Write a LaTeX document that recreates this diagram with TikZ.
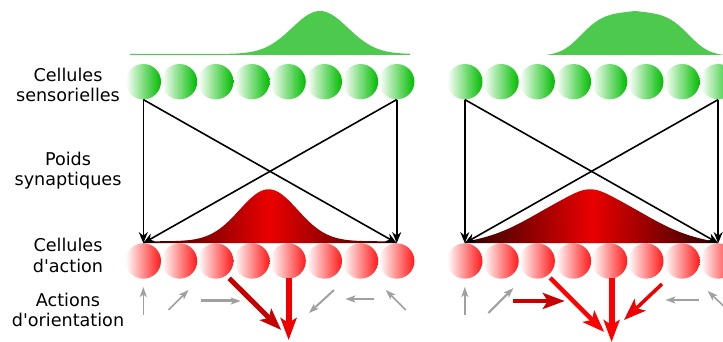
\documentclass[tikz,border=0pt]{standalone}
\usepackage{fontspec}
\newfontfamily\labelfont{DejaVu Sans}
\usepackage{tikz}
\usetikzlibrary{positioning, arrows.meta, calc}

\definecolor{sensegreen}{RGB}{0,188,0}
\definecolor{bumpgreen}{RGB}{77,201,77}
\definecolor{actred}{RGB}{255,25,25}
\definecolor{bumpdark}{RGB}{45,0,0}
\definecolor{bumpred}{RGB}{234,0,0}
\definecolor{orientgray}{RGB}{160,160,160}
\definecolor{pushdark}{RGB}{200,0,0}
\definecolor{pushred}{RGB}{238,0,0}

\begin{document}
\begin{tikzpicture}[x=1pt, y=1pt,
        % Define cell and arrow styles
        sensory/.style={circle, minimum size=35.4pt, inner sep=0pt, left color=white, right color=sensegreen},
        action/.style={circle, minimum size=35.4pt, inner sep=0pt, left color=white, right color=actred},
        wire/.style={draw, line width=1.6pt, -{Stealth[length=11pt, width=9pt, inset=3.5pt]}},
        orient/.style={draw=orientgray, line width=#1, -{Stealth[length=10pt, width=7pt, inset=2.5pt]}},
        orient/.default=1.6pt,
        push/.style={line width=#1, -{Stealth[length=22pt, width=16pt, inset=5pt]}},
        rowlabel/.style={align=center, anchor=base, inner sep=0pt, font={\labelfont\fontsize{17.6}{20.5}\selectfont}}
    ]
    \useasboundingbox (0,0) rectangle (723,342);

    % --- Row labels (anchored at the last line) ---
    \node[rowlabel] (lbSense) at (68,240.3) {Cellules\\sensorielles};
    \node[rowlabel] (lbWeights) at (68,156) {Poids\\synaptiques};
    \node[rowlabel] (lbAction) at (68,69.5) {Cellules\\d'action};
    \node[rowlabel] (lbOrient) at (68,15.3) {Actions\\d'orientation};

    % --- Input bumps (green) ---
    \fill[bumpgreen] (130,287) -- plot[domain=130:410, samples=120] (\x, {288 + 43*exp(-((\x-320)/39.6)^2)}) -- (410,287) -- cycle;
    \fill[bumpgreen] (547,287) -- plot[domain=547:723, samples=120] (\x, {287 + 34*exp(-((\x-635)/58)^4) + 10*(1-abs(\x-635)/88)}) -- (723,287) -- cycle;

    % --- Cell rows ---
    \node[sensory] (sL1) at (143.3,260.3) {};
    \node[action] (aL1) at (143.3,81) {};
    \node[sensory] (sR1) at (464.8,260.3) {};
    \node[action] (aR1) at (464.8,81) {};
    \foreach \i [remember=\i as \j (initially 1)] in {2,...,8} {
        \node[sensory, right=0.4pt of sL\j] (sL\i) {};
        \node[action, right=0.4pt of aL\j] (aL\i) {};
        \node[sensory, right=0.4pt of sR\j] (sR\i) {};
        \node[action, right=0.4pt of aR\j] (aR\i) {};
    }

    % --- Output bumps (red), shaded dark at the edges ---
    \shade[left color=bumpdark, right color=bumpdark, middle color=bumpred]
        (aL1.north) -- plot[domain=143.3:393.9, samples=120] (\x, {100.7 + 52*exp(-((\x-268.6)/41)^2)}) -- (aL8.north) -- cycle;
    \shade[left color=bumpdark, right color=bumpdark, middle color=bumpred]
        (aR1.north) -- plot[domain=464.8:715.4, samples=120] (\x, {100.7 + 47*exp(-((\x-590.1)/74)^2) + 5*exp(-((\x-590.1)/22)^2) - 3*((\x-590.1)/125)^2}) -- (aR8.north) -- cycle;

    % --- Synaptic weights ---
    \foreach \p in {L,R} {
        \draw[wire] (s\p1.south) -- (a\p1.north);
        \draw[wire] (s\p1.south) -- (a\p8.north);
        \draw[wire] (s\p8.south) -- (a\p1.north);
        \draw[wire] (s\p8.south) -- (a\p8.north);
    }

    % --- Orientation vectors, left panel ---
    \draw[orient] ([shift={(0,-54)}]aL1.center) -- ++(0,28);
    \draw[orient] ([shift={(-11,-49)}]aL2.center) -- ++(20,20);
    \draw[orient=3pt] ([shift={(-15,-40)}]aL3.center) -- ++(40,0);
    \draw[push=5pt, pushdark] ([shift={(-22.7,-17.3)}]aL4.center) -- ++(52,-51.7);
    \draw[push=6pt, pushred] ([shift={(0.5,-17)}]aL5.center) -- ++(0,-62);
    \draw[orient=2pt] ([shift={(9.7,-29)}]aL6.center) -- ++(-25,-23);
    \draw[orient=2pt] ([shift={(13.9,-38)}]aL7.center) -- ++(-29,0);
    \draw[orient] ([shift={(9.1,-49)}]aL8.center) -- ++(-20,20);

    % --- Orientation vectors, right panel ---
    \draw[orient] ([shift={(0,-54)}]aR1.center) -- ++(0,28);
    \draw[orient=2pt] ([shift={(-12.6,-52)}]aR2.center) -- ++(25,25);
    \draw[push=4pt, pushdark] ([shift={(-24.4,-40)}]aR3.center) -- ++(52,0);
    \draw[push=4.5pt, red] ([shift={(-23.2,-17)}]aR4.center) -- ++(54,-54);
    \draw[push=6pt, red] ([shift={(2,-17)}]aR5.center) -- ++(0,-64);
    \draw[push=3.5pt, pushred] ([shift={(16.2,-23)}]aR6.center) -- ++(-38,-36);
    \draw[orient=2.6pt] ([shift={(17.4,-39)}]aR7.center) -- ++(-34,0);
    \draw[orient] ([shift={(9.6,-49)}]aR8.center) -- ++(-20,19);

\end{tikzpicture}
\end{document}
